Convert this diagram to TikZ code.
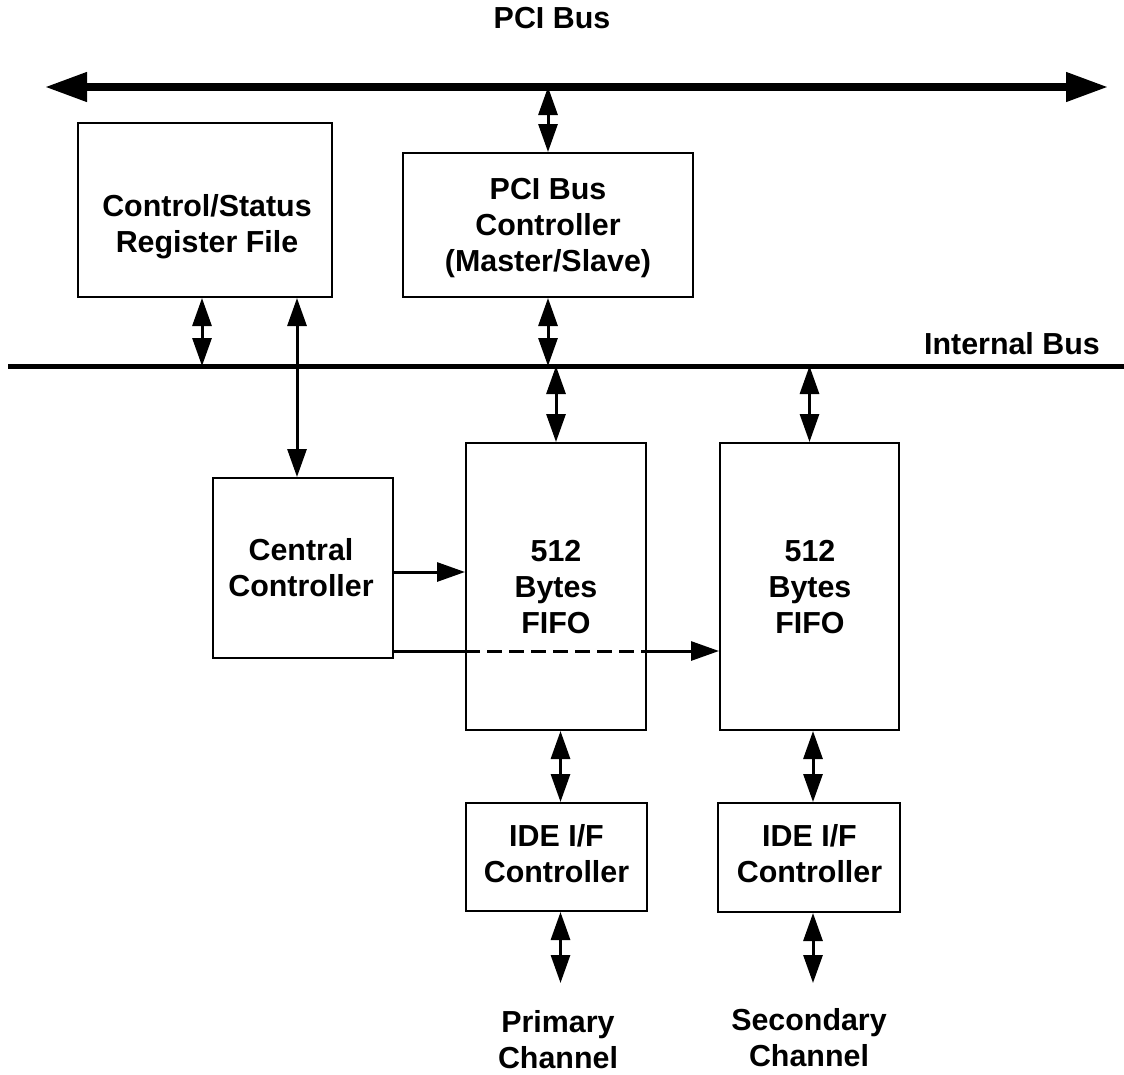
\documentclass[tikz,border=0pt]{standalone}
\usepackage{fontspec}
\setmainfont{Liberation Sans}
\usetikzlibrary{arrows.meta}
\begin{document}
\begin{tikzpicture}[x=1pt,y=-1pt,
  box/.style={draw, line width=2pt, inner sep=0pt},
  lbl/.style={font=\fontsize{30.4}{36}\selectfont\bfseries, align=center, inner sep=0pt},
  link/.style={line width=3pt, {Triangle[length=28pt,width=19pt]}-{Triangle[length=28pt,width=19pt]}},
  oneway/.style={line width=3pt, -{Triangle[length=28pt,width=19pt]}},
  plain/.style={line width=3pt},
  bigbus/.style={line width=7.5pt, {Triangle[length=42pt,width=28pt]}-{Triangle[length=42pt,width=28pt]}},
  intbus/.style={line width=5pt}]
\useasboundingbox (0,0) rectangle (1124,1074);

% boxes
\node[box, minimum width=254pt, minimum height=174pt] (csr) at (205,210) {};
\node[box, minimum width=290pt, minimum height=144pt] (pcic) at (548,225) {};
\node[box, minimum width=180pt, minimum height=180pt] (cc) at (303,568) {};
\node[box, minimum width=180pt, minimum height=287pt] (f1) at (556,586.5) {};
\node[box, minimum width=179pt, minimum height=287pt] (f2) at (809.5,586.5) {};
\node[box, minimum width=181pt, minimum height=108pt] (ide1) at (556.5,857) {};
\node[box, minimum width=182pt, minimum height=109pt] (ide2) at (809,857.5) {};

% labels
\node[lbl] (title) at (552,18) {PCI Bus};
\node[lbl, anchor=east] (ibl) at (1100,344) {Internal Bus};
\node[lbl] (csrt) at (207,227) {Control/Status\\Register File};
\node[lbl] (pcict) at (548,228) {PCI Bus\\Controller\\(Master/Slave)};
\node[lbl] (cct) at (301,567.5) {Central\\Controller};
\node[lbl] (f1t) at (556,587) {512\\Bytes\\FIFO};
\node[lbl] (f2t) at (810,587) {512\\Bytes\\FIFO};
\node[lbl] (ide1t) at (556.5,854) {IDE I/F\\Controller};
\node[lbl] (ide2t) at (809.5,854) {IDE I/F\\Controller};
\node[lbl] (prim) at (558,1040) {Primary\\Channel};
\node[lbl] (sec) at (809,1037.5) {Secondary\\Channel};

% buses
\coordinate (pL) at (45,87);
\coordinate (pR) at (1108,87);
\coordinate (iL) at (8,366);
\coordinate (iR) at (1124,366);
\draw[bigbus] (pL) -- (pR);
\draw[intbus] (iL) -- (iR);

% vertical links
\draw[link] (pcic.north |- pL) -- (pcic.north);
\draw[link] ([xshift=-3pt]csr.south) -- ([xshift=-3pt]csr.south |- iL);
\draw[link] ([xshift=-6pt]cc.north |- csr.south) -- ([xshift=-6pt]cc.north);
\draw[link] (pcic.south) -- (pcic.south |- iL);
\draw[link] (f1.north |- iL) -- (f1.north);
\draw[link] (f2.north |- iL) -- (f2.north);
\draw[link] ([xshift=4pt]ide1.north |- f1.south) -- ([xshift=4pt]ide1.north);
\draw[link] ([xshift=4pt]ide2.north |- f2.south) -- ([xshift=4pt]ide2.north);
\coordinate (c1) at (560.5,983);
\coordinate (c2) at (813,983);
\draw[link] (ide1.south -| c1) -- (c1);
\draw[link] (ide2.south -| c2) -- (c2);

% central controller outputs
\draw[oneway] ([yshift=-4pt]cc.east) -- ([yshift=-4pt]cc.east -| f1.west);
\coordinate (d0) at ([yshift=-83pt]cc.east);
\draw[plain] (d0) -- (d0 -| f1.west);
\draw[plain, dash pattern=on 15pt off 7pt] (d0 -| f1.west) -- (d0 -| f1.east);
\draw[oneway] (d0 -| f1.east) -- (d0 -| f2.west);
\end{tikzpicture}
\end{document}
